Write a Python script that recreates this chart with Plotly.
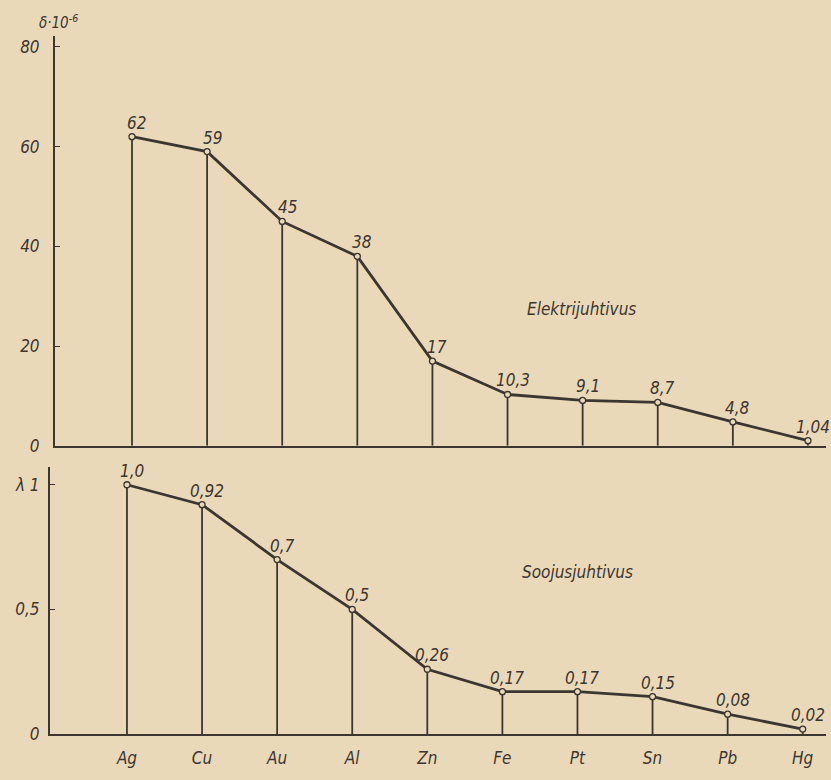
import plotly.graph_objects as go

# Metals along the horizontal axis
metals = ["Ag", "Cu", "Au", "Al", "Zn", "Fe", "Pt", "Sn", "Pb", "Hg"]

# Electrical conductivity, units of 10^6
elec = [62, 59, 45, 38, 17, 10.3, 9.1, 8.7, 4.8, 1.04]
elec_labels = ["62", "59", "45", "38", "17", "10,3", "9,1", "8,7", "4,8", "1,04"]

# Thermal conductivity (lambda)
heat = [1.0, 0.92, 0.7, 0.5, 0.26, 0.17, 0.17, 0.15, 0.08, 0.02]
heat_labels = ["1,0", "0,92", "0,7", "0,5", "0,26", "0,17", "0,17", "0,15", "0,08", "0,02"]

elec_ticks = [0, 20, 40, 60, 80]
elec_ticktext = ["0", "20", "40", "60", "80"]
heat_ticks = [0, 0.5, 1.0]
heat_ticktext = ["0", "0,5", "λ 1"]

W, H = 831, 780
RH = 772  # vertical extent used for laying out the panels
INK = "#3b3631"
PAPER = "#ead9b8"
FONT = "DejaVu Sans Condensed, Liberation Sans Narrow, sans-serif"


def xdom(x0, x1):
    return [x0 / W, x1 / W]


def ydom(top, bottom):
    return [1 - bottom / RH, 1 - top / RH]


def py(y):
    return 1 - y / RH


def stems(values):
    xs, ys = [], []
    for i, v in enumerate(values):
        xs += [i, i, None]
        ys += [0, v, None]
    return xs, ys


fig = go.Figure()

idx = list(range(len(metals)))

for vals, xa, ya in [(elec, "x", "y"), (heat, "x2", "y2")]:
    sx, sy = stems(vals)
    fig.add_trace(go.Scatter(x=sx, y=sy, mode="lines", xaxis=xa, yaxis=ya,
                             line=dict(color=INK, width=1.8),
                             hoverinfo="skip", showlegend=False))
    fig.add_trace(go.Scatter(x=idx, y=vals, mode="lines+markers", xaxis=xa, yaxis=ya,
                             line=dict(color=INK, width=2.8),
                             marker=dict(size=6, color=PAPER,
                                         line=dict(color=INK, width=1.3)),
                             showlegend=False))

lab_font = dict(family=FONT, size=17, color=INK)
annotations = []
for i, (v, t) in enumerate(zip(elec, elec_labels)):
    annotations.append(dict(x=i, y=v, xref="x", yref="y", text=f"<i>{t}</i>",
                            showarrow=False, xanchor="center", yanchor="bottom",
                            xshift=5, yshift=2, font=lab_font))
for i, (v, t) in enumerate(zip(heat, heat_labels)):
    annotations.append(dict(x=i, y=v, xref="x2", yref="y2", text=f"<i>{t}</i>",
                            showarrow=False, xanchor="center", yanchor="bottom",
                            xshift=5, yshift=2, font=lab_font))

annotations += [
    dict(x=581 / W, y=py(310), xref="paper", yref="paper",
         xanchor="center", yanchor="middle",
         text="<i>Elektrijuhtivus</i>", showarrow=False,
         font=dict(family=FONT, size=17, color=INK)),
    dict(x=577 / W, y=py(573), xref="paper", yref="paper",
         xanchor="center", yanchor="middle",
         text="<i>Soojusjuhtivus</i>", showarrow=False,
         font=dict(family=FONT, size=17, color=INK)),
    dict(x=58 / W, y=py(22), xref="paper", yref="paper",
         xanchor="center", yanchor="middle",
         text="<i>δ·10<sup>-6</sup></i>", showarrow=False,
         font=dict(family=FONT, size=15, color=INK)),
]

tickfont = dict(family=FONT, size=17, color=INK)

fig.update_layout(
    width=W, height=H,
    margin=dict(l=0, r=0, t=0, b=0),
    paper_bgcolor=PAPER, plot_bgcolor=PAPER,
    annotations=annotations,
    xaxis=dict(domain=xdom(55, 826), range=[-1.025, 9.24], anchor="y",
               showgrid=False, zeroline=False, showline=True,
               linecolor=INK, linewidth=2, showticklabels=False, ticks=""),
    yaxis=dict(domain=ydom(36, 447), range=[0, 82.2], anchor="x",
               showgrid=False, zeroline=False, showline=True,
               linecolor=INK, linewidth=2, ticks="inside", ticklen=5,
               tickcolor=INK, tickvals=elec_ticks,
               ticktext=[f"<i>{t}</i>" for t in elec_ticktext],
               tickfont=tickfont, ticklabelstandoff=10),
    xaxis2=dict(domain=xdom(50, 826), range=[-1.025, 9.31], anchor="y2",
                showgrid=False, zeroline=False, showline=True,
                linecolor=INK, linewidth=2, ticks="",
                tickvals=idx, ticktext=[f"<i>{m}</i>" for m in metals],
                tickfont=tickfont, ticklabelstandoff=8),
    yaxis2=dict(domain=ydom(468, 736), range=[0, 1.072], anchor="x2",
                showgrid=False, zeroline=False, showline=True,
                linecolor=INK, linewidth=2, ticks="inside", ticklen=5,
                tickcolor=INK, tickvals=heat_ticks,
                ticktext=[f"<i>{t}</i>" for t in heat_ticktext],
                tickfont=tickfont, ticklabelstandoff=5),
)

fig.write_html("out.html")
